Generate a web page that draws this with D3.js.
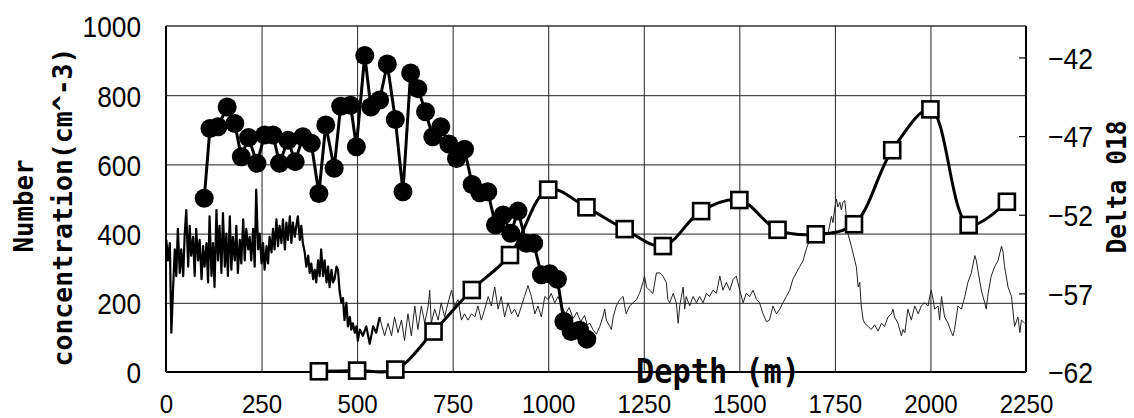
<!DOCTYPE html>
<html><head><meta charset="utf-8">
<script src="https://cdn.jsdelivr.net/npm/d3@7"></script>
<style>
html,body{margin:0;padding:0;background:#fff;}
svg{display:block;}
</style></head><body>
<svg id="chart" width="1134" height="418"></svg>
<script>
// ---------- data ----------
const xTicks = [0,250,500,750,1000,1250,1500,1750,2000,2250];
const yLeftTicks = [0,200,400,600,800,1000];
const yRightTicks = [-62,-57,-52,-47,-42];

const circleDepth = [100,115,136,160,180,197,216,238,258,280,297,319,338,358,380,400,418,440,457,483,498,520,536,559,579,600,620,640,659,679,698,719,740,760,781,801,821,842,862,882,902,921,943,962,982,1004,1024,1041,1060,1082,1101];
const circleConc  = [502,704,709,766,718,622,678,603,685,685,603,670,608,680,661,516,714,589,768,771,651,915,766,786,890,730,521,864,819,752,680,709,659,617,644,542,518,521,425,454,401,465,372,372,281,284,268,146,117,121,95];

const squareDepth = [400,500,600,700,800,900,1000,1100,1200,1300,1400,1500,1600,1700,1800,1900,2000,2100,2200];
const squareConc  = [2,4,7,117,237,338,527,476,413,364,465,497,411,398,427,641,759,425,492];

// delta O18 trace: [depth, delta]  (high-resolution upper part)
const deltaUpper = [
[1,-53.6],[5,-54.9],[10,-53.8],[14,-59.5],[18,-57.0],[23,-54.2],[27,-55.9],[31,-52.9],[36,-55.7],[40,-54.2],
[45,-55.9],[49,-53.2],[53,-51.7],[58,-55.3],[62,-52.7],[66,-54.6],[71,-53.4],[75,-55.9],[79,-52.9],[84,-54.9],
[88,-53.6],[93,-56.1],[97,-54.0],[101,-55.3],[106,-53.8],[110,-56.3],[114,-52.1],[119,-55.9],[123,-53.8],[127,-56.6],
[132,-51.7],[136,-54.9],[140,-52.7],[145,-55.7],[149,-51.9],[154,-55.3],[158,-53.2],[162,-55.9],[167,-52.1],[171,-55.5],
[175,-53.4],[180,-54.9],[184,-52.7],[188,-55.7],[193,-53.6],[197,-55.1],[202,-52.3],[206,-54.9],[210,-52.9],[215,-54.2],
[219,-53.4],[223,-54.9],[228,-52.9],[232,-55.3],[236,-50.4],[241,-54.2],[245,-53.2],[250,-55.1],[254,-53.8],[258,-55.5],
[263,-54.0],[267,-55.1],[271,-53.4],[276,-54.4],[280,-52.9],[284,-54.2],[289,-52.3],[293,-54.0],[297,-52.7],[302,-53.8],
[306,-52.3],[311,-54.2],[315,-52.5],[319,-53.6],[324,-52.1],[328,-53.8],[332,-52.5],[337,-53.4],[341,-52.7],[345,-52.1],
[350,-53.6],[354,-52.7],[358,-53.8],[363,-54.4],[367,-55.3],[372,-54.6],[376,-55.7],[380,-55.1],[385,-56.1],[389,-55.5],
[393,-56.3],[398,-54.9],[402,-55.9],[406,-54.2],[411,-55.9],[415,-54.9],[420,-56.3],[424,-55.3],[428,-56.6],[433,-55.5],
[437,-56.3],[441,-56.1],[446,-55.3],[450,-55.5],[454,-56.8],[459,-57.6],[463,-57.3],[467,-58.7],[472,-57.6],[476,-59.1],
[481,-58.5],[485,-59.3],[489,-58.9],[494,-59.5],[498,-59.1],[502,-60.0],[507,-59.3],[515,-59.7],[524,-59.1],[533,-60.2],
[542,-59.1],[550,-59.5],[559,-58.5]
];
// delta O18 trace: [depth, delta]  (lower part)
const deltaLower = [
[559,-58.5],
[563,-58.9],[572,-59.7],[581,-58.9],[590,-59.7],[598,-58.5],[607,-59.5],[616,-58.7],[624,-60.0],[633,-58.3],[642,-59.7],
[651,-57.8],[659,-59.3],[668,-57.8],[677,-58.9],[686,-57.8],[690,-56.8],[694,-58.9],[703,-58.0],[712,-58.7],[720,-57.6],
[729,-58.5],[738,-57.6],[747,-56.8],[755,-57.8],[764,-57.4],[773,-58.7],[781,-58.3],[790,-58.7],[799,-58.3],[808,-58.5],
[816,-57.8],[825,-58.7],[834,-58.0],[843,-57.2],[851,-57.8],[860,-56.6],[869,-58.0],[877,-57.2],[886,-58.5],[895,-57.6],
[904,-58.3],[912,-58.0],[921,-58.5],[930,-57.8],[938,-57.2],[947,-56.5],[956,-57.2],[965,-58.3],[973,-57.8],[982,-58.5],
[991,-57.2],[1000,-57.4],[1008,-57.0],[1017,-57.6],[1026,-57.2],
[1035,-57.8],[1045,-58.3],[1055,-57.9],[1065,-58.6],[1075,-58.2],[1085,-58.8],[1095,-58.4],[1102,-59.0],
[1109,-58.9],[1117,-59.3],[1126,-59.6],[1135,-59.1],[1143,-58.5],[1148,-58.0],[1152,-58.7],[1161,-59.1],[1165,-59.3],[1170,-58.5],
[1178,-57.8],[1187,-57.4],[1196,-57.2],[1200,-57.8],[1204,-58.3],[1213,-57.8],[1222,-57.6],[1231,-57.4],[1239,-57.0],[1248,-56.3],
[1252,-55.9],[1257,-56.6],[1265,-56.8],[1274,-57.0],[1283,-55.7],[1292,-55.7],[1300,-55.9],[1309,-56.3],[1313,-57.4],[1318,-57.6],
[1327,-57.0],[1335,-57.6],[1340,-58.9],[1344,-57.8],[1353,-56.6],[1357,-58.0],[1361,-57.2],[1370,-57.8],[1379,-57.2],[1388,-57.6],
[1396,-57.2],[1405,-57.6],[1414,-57.0],[1422,-57.2],[1431,-56.8],[1440,-57.0],[1449,-55.9],[1457,-56.8],[1466,-56.3],[1475,-56.8],
[1484,-56.1],[1492,-55.9],[1501,-56.8],[1510,-57.6],[1518,-57.0],[1527,-57.2],[1536,-56.8],[1545,-57.4],[1553,-57.6],[1562,-58.3],
[1571,-58.8],[1579,-58.7],[1588,-57.8],[1597,-58.3],[1606,-58.0],[1614,-57.6],[1623,-57.2],[1632,-56.8],[1640,-56.1],[1649,-55.7],
[1658,-55.3],[1667,-54.9],[1675,-54.2],[1684,-53.6],
[1688,-53.4],[1697,-53.6],[1706,-53.4],[1715,-53.2],[1723,-53.3],[1732,-53.2],[1741,-52.1],[1745,-52.5],[1749,-51.7],[1754,-51.0],
[1758,-51.5],[1763,-51.2],[1767,-51.7],[1771,-51.2],[1776,-51.1],[1780,-52.1],[1784,-53.2],[1793,-54.0],[1802,-54.9],[1806,-55.3],
[1811,-56.6],[1815,-56.3],[1819,-57.8],[1824,-58.7],[1828,-58.9],[1837,-59.1],[1845,-59.3],[1854,-59.0],[1863,-59.4],[1872,-58.9],
[1880,-59.1],[1889,-58.5],[1898,-58.3],[1902,-58.0],[1906,-58.5],[1915,-58.9],[1924,-59.7],[1928,-59.3],[1933,-59.5],[1941,-58.0],
[1950,-58.7],[1959,-57.8],[1968,-58.3],[1976,-57.8],[1985,-57.6],[1994,-57.8],[1998,-57.2],[2002,-56.8],[2007,-57.4],[2011,-58.0],
[2020,-57.8],[2024,-58.7],[2029,-57.2],[2037,-58.5],[2046,-58.9],[2055,-59.5],[2059,-59.7],[2063,-59.3],[2072,-57.8],[2081,-58.0],
[2090,-57.2],[2098,-56.3],[2107,-55.7],[2116,-54.6],[2120,-54.9],[2124,-55.5],[2133,-56.8],[2142,-57.6],[2146,-58.0],[2151,-57.0],
[2159,-55.9],[2168,-55.3],[2177,-54.9],[2186,-54.0],[2190,-54.4],[2194,-55.3],[2203,-56.6],[2212,-57.2],[2220,-59.1],[2229,-58.5],
[2234,-59.5],[2238,-58.7],[2247,-58.9]
];

// ---------- layout ----------
const svg = d3.select('#chart');
const L = 166, R = 1026, T = 26, B = 372;
const x  = d3.scaleLinear().domain([0,2250]).range([L,R]);
const yL = d3.scaleLinear().domain([0,1000]).range([B,T]);
const yR = d3.scaleLinear().domain([-62,-40]).range([B,T]);

const tickFont = '"Liberation Sans", Arial, sans-serif';
const titleFont = '"DejaVu Sans Mono", "Liberation Mono", monospace';
const fmt = d => String(d).replace('-', '\u2212');

// gridlines
const gx = svg.append('g').attr('transform',`translate(0,${B})`)
  .call(d3.axisBottom(x).tickValues(xTicks.slice(1,-1)).tickSize(-(B-T)).tickFormat(''));
gx.select('.domain').remove();
gx.selectAll('line').attr('stroke','#222').attr('stroke-width',1);

const gy = svg.append('g').attr('transform',`translate(${L},0)`)
  .call(d3.axisLeft(yL).tickValues(yLeftTicks.slice(1,-1)).tickSize(-(R-L)).tickFormat(''));
gy.select('.domain').remove();
gy.selectAll('line').attr('stroke','#222').attr('stroke-width',1);

// delta trace
const dLine = d3.line().x(d=>x(d[0])).y(d=>yR(d[1]));
svg.append('path').datum(deltaUpper)
  .attr('fill','none').attr('stroke','#000').attr('stroke-width',2.2)
  .attr('stroke-linejoin','round').attr('d', dLine);
svg.append('path').datum(deltaLower)
  .attr('fill','none').attr('stroke','#222').attr('stroke-width',1)
  .attr('stroke-linejoin','round').attr('d', dLine);

// frame
svg.append('line').attr('x1',L).attr('x2',R).attr('y1',T).attr('y2',T).attr('stroke','#333').attr('stroke-width',1.6);
svg.append('line').attr('x1',L).attr('x2',L).attr('y1',T).attr('y2',B).attr('stroke','#000').attr('stroke-width',2);
svg.append('line').attr('x1',R).attr('x2',R).attr('y1',T).attr('y2',B).attr('stroke','#000').attr('stroke-width',2);
svg.append('line').attr('x1',L).attr('x2',R).attr('y1',B).attr('y2',B).attr('stroke','#000').attr('stroke-width',2.2);

// left axis labels
const ay = svg.append('g').attr('transform',`translate(${L},0)`)
  .call(d3.axisLeft(yL).tickValues(yLeftTicks).tickFormat(fmt).tickSize(0).tickPadding(25));
ay.select('.domain').remove();
ay.selectAll('text').attr('font-family',tickFont).attr('font-size',30).attr('fill','#000')
  .attr('dy','0.36em')
  .attr('textLength',d=>String(d).length*14.6).attr('lengthAdjust','spacingAndGlyphs');

// right axis: inward ticks + labels
const ar = svg.append('g').attr('transform',`translate(${R},0)`)
  .call(d3.axisRight(yR).tickValues(yRightTicks).tickFormat(fmt).tickSizeInner(-7).tickSizeOuter(0).tickPadding(22));
ar.select('.domain').remove();
ar.selectAll('line').attr('stroke','#000').attr('stroke-width',1.2);
ar.selectAll('text').attr('font-family',tickFont).attr('font-size',30).attr('fill','#000')
  .attr('dy','0.36em')
  .attr('textLength',45).attr('lengthAdjust','spacingAndGlyphs');

// bottom axis labels
const ax = svg.append('g').attr('transform',`translate(0,${B})`)
  .call(d3.axisBottom(x).tickValues(xTicks).tickFormat(fmt).tickSize(0).tickPadding(0));
ax.select('.domain').remove();
ax.selectAll('text').attr('font-family',tickFont).attr('font-size',26).attr('fill','#000')
  .attr('y',41).attr('dy',0)
  .attr('textLength',d=>String(d).length*13.4).attr('lengthAdjust','spacingAndGlyphs');

// square series (smoothed line)
svg.append('path').datum(squareDepth.map((d,i)=>[d,squareConc[i]]))
  .attr('fill','none').attr('stroke','#000').attr('stroke-width',3)
  .attr('d', d3.line().curve(d3.curveCatmullRom.alpha(0.5)).x(d=>x(d[0])).y(d=>yL(d[1])));

// circle series
svg.append('path').datum(circleDepth.map((d,i)=>[d,circleConc[i]]))
  .attr('fill','none').attr('stroke','#000').attr('stroke-width',3).attr('stroke-linejoin','round')
  .attr('d', d3.line().x(d=>x(d[0])).y(d=>yL(d[1])));
svg.append('g').selectAll('circle').data(circleDepth.map((d,i)=>[d,circleConc[i]])).join('circle')
  .attr('cx',d=>x(d[0])).attr('cy',d=>yL(d[1])).attr('r',9.5).attr('fill','#000');

// squares
const sq = 16;
svg.append('g').selectAll('rect').data(squareDepth.map((d,i)=>[d,squareConc[i]])).join('rect')
  .attr('x',d=>x(d[0])-sq/2).attr('y',d=>yL(d[1])-sq/2).attr('width',sq).attr('height',sq)
  .attr('fill','#fff').attr('stroke','#000').attr('stroke-width',2.6);

// titles
svg.append('text').attr('transform','translate(33,206) rotate(-90)')
  .attr('text-anchor','middle').attr('font-family',titleFont).attr('font-weight','bold')
  .attr('font-size',27).attr('textLength',93).attr('lengthAdjust','spacingAndGlyphs')
  .text('Number');
svg.append('text').attr('transform','translate(72,207) rotate(-90)')
  .attr('text-anchor','middle').attr('font-family',titleFont).attr('font-weight','bold')
  .attr('font-size',26).attr('textLength',319).attr('lengthAdjust','spacingAndGlyphs')
  .text('concentration(cm^-3)');
svg.append('text').attr('transform','translate(1126,187) rotate(-90)')
  .attr('text-anchor','middle').attr('font-family',titleFont).attr('font-weight','bold')
  .attr('font-size',27).attr('textLength',133).attr('lengthAdjust','spacingAndGlyphs')
  .text('Delta 018');
svg.append('text').attr('x',718).attr('y',383)
  .attr('text-anchor','middle').attr('font-family',titleFont).attr('font-weight','bold')
  .attr('font-size',33).attr('textLength',164).attr('lengthAdjust','spacingAndGlyphs')
  .text('Depth (m)');
</script>
</body></html>
